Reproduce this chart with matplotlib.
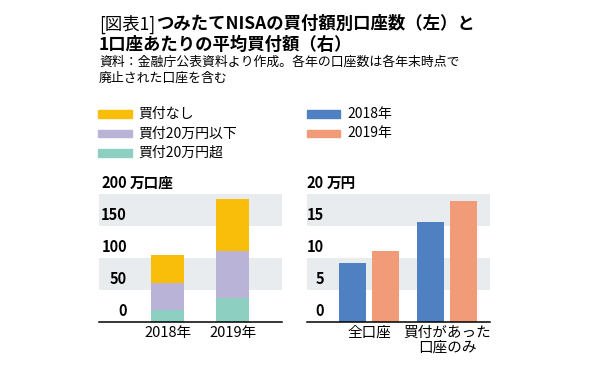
import numpy as np
import matplotlib
matplotlib.use("Agg")
import matplotlib.pyplot as plt

plt.rcParams['font.family'] = ['Noto Sans CJK JP', 'DejaVu Sans']

# left: accounts by purchase amount (万口座)
years = ['2018年', '2019年']
over20 = [18, 37]
under20 = [43, 74]
none_ = [44, 81]

# right: average purchase per account (万円)
groups = ['全口座', '買付があった\n口座のみ']
avg2018 = [9.1, 15.6]
avg2019 = [11.0, 18.9]

yticks = [0, 50, 100, 150, 200]
yticks_r = [0, 5, 10, 15, 20]

c_none = '#F9BE0A'
c_under = '#B9B3D8'
c_over = '#8DCFC0'
c_18 = '#4F81C2'
c_19 = '#F29B78'
band = '#E9ECEF'

W, H = 591, 375
fig = plt.figure(figsize=(W / 100, H / 100), dpi=100)


def fx(x):
    return x / W


def fy(y):
    return 1 - y / H


def axes_px(x0, x1, ytop, ybot):
    return fig.add_axes([fx(x0), fy(ybot), fx(x1) - fx(x0), (ybot - ytop) / H])


# title: bracket part regular, rest bold
t = fig.text(fx(99), fy(24), '[図表1]', fontsize=12.5, va='center', ha='left')
fig.canvas.draw()
bb = t.get_window_extent()
fig.text(fx(bb.x1 + 1), fy(24), 'つみたてNISAの買付額別口座数（左）と', fontsize=12.5,
         fontweight='bold', va='center', ha='left')
fig.text(fx(99), fy(45), '1口座あたりの平均買付額（右）', fontsize=12.5,
         fontweight='bold', va='center', ha='left')
fig.text(fx(99), fy(62), '資料：金融庁公表資料より作成。各年の口座数は各年末時点で',
         fontsize=9.3, va='center', ha='left')
fig.text(fx(99), fy(78), '廃止された口座を含む', fontsize=9.3, va='center', ha='left')

# legend
leg_left = [('買付なし', c_none), ('買付20万円以下', c_under), ('買付20万円超', c_over)]
leg_right = [('2018年', c_18), ('2019年', c_19)]
for i, (lab, col) in enumerate(leg_left):
    y = 114 + i * 19.5
    fig.patches.append(plt.Rectangle((fx(98), fy(y + 3.5)), fx(34), 7 / H,
                                     transform=fig.transFigure, color=col))
    fig.text(fx(138), fy(y), lab, fontsize=10, va='center', ha='left')
for i, (lab, col) in enumerate(leg_right):
    y = 114 + i * 19.5
    fig.patches.append(plt.Rectangle((fx(307), fy(y + 3.5)), fx(33), 7 / H,
                                     transform=fig.transFigure, color=col))
    fig.text(fx(347), fy(y), lab, fontsize=10, va='center', ha='left')


def style(ax, ticks, unit, num_right_x, x0):
    ax.set_ylim(ticks[0], ticks[-1])
    ax.axhspan(ticks[1], ticks[2], color=band, zorder=0, lw=0)
    ax.axhspan(ticks[3], ticks[4], color=band, zorder=0, lw=0)
    for s in ['top', 'right', 'left']:
        ax.spines[s].set_visible(False)
    ax.spines['bottom'].set_linewidth(1.1)
    ax.set_yticks([])
    ax.tick_params(axis='x', length=0, pad=3, labelsize=10.5)
    for v in ticks:
        ax.annotate(str(v), xy=(0, v), xycoords=('axes fraction', 'data'),
                    xytext=(num_right_x - x0, 3), textcoords='offset pixels',
                    ha='right', va='bottom', fontsize=10.5, fontweight='bold')
    ax.annotate(unit, xy=(0, ticks[-1]), xycoords=('axes fraction', 'data'),
                xytext=(num_right_x - x0 + 3, 3), textcoords='offset pixels',
                ha='left', va='bottom', fontsize=10.5, fontweight='bold')


# left chart
ax1 = axes_px(99, 282, 194, 321.5)
x = np.arange(len(years))
w = 0.51
ax1.bar(x, over20, w, color=c_over, zorder=2)
ax1.bar(x, under20, w, bottom=over20, color=c_under, zorder=2)
ax1.bar(x, none_, w, bottom=np.add(over20, under20), color=c_none, zorder=2)
ax1.set_xlim(-1.054, 1.76)
ax1.set_xticks(x)
ax1.set_xticklabels(years)
style(ax1, yticks, '万口座', 127, 99)

# right chart
ax2 = axes_px(307, 490, 194, 321.5)
xg = np.arange(len(groups))
bw = 0.346
off = 0.2115
ax2.bar(xg - off, avg2018, bw, color=c_18, zorder=2)
ax2.bar(xg + off, avg2019, bw, color=c_19, zorder=2)
ax2.set_xlim(-0.795, 1.551)
ax2.set_xticks(xg)
ax2.set_xticklabels(groups, linespacing=1.1)
style(ax2, yticks_r, '万円', 324, 307)

fig.savefig('out.png', dpi=100)
